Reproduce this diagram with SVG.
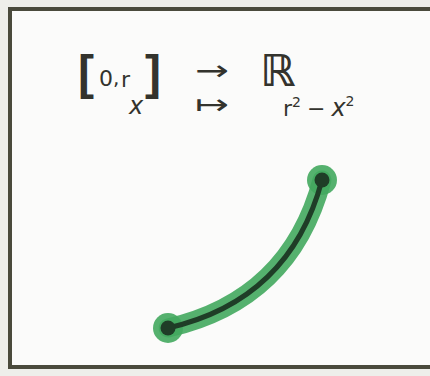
<svg xmlns="http://www.w3.org/2000/svg" width="430" height="376" viewBox="0 0 430 376">
<style>
.t{font-family:"DejaVu Sans","Liberation Sans",sans-serif;fill:#33332d}
.br{font-family:"Liberation Sans","DejaVu Sans",sans-serif;font-weight:bold;font-size:48px}
.ar{font-size:28px}
.halo{fill:none;stroke:#43a85e;stroke-opacity:0.9;stroke-width:19;stroke-linecap:round}
.core{fill:none;stroke:#1f3d27;stroke-width:5;stroke-linecap:round}
</style>
<rect x="0" y="0" width="430" height="376" fill="#eeeeea"/>
<rect x="10" y="9" width="440" height="358" fill="#fbfbfa" stroke="#4a4a3c" stroke-width="4"/>
<g id="formula">
<text class="t br" x="78" y="89">[</text>
<text class="t" x="99" y="86" font-size="22">0</text>
<text class="t" x="113" y="85" font-size="20">,</text>
<text class="t" x="121" y="87" font-size="22">r</text>
<text class="t br" x="145" y="89">]</text>
<text class="t ar" transform="translate(195,80) scale(1.45,1)">→</text>
<text class="t" x="260" y="86" font-size="44" font-weight="bold">ℝ</text>
<text class="t" x="129" y="114" font-size="24" font-style="italic">x</text>
<text class="t ar" transform="translate(195,114) scale(1.45,1)">↦</text>
<text class="t" x="283" y="116" font-size="22">r<tspan dy="-9" font-size="14">2</tspan><tspan dy="9" dx="6">−</tspan><tspan dx="6" font-style="italic" font-size="24">x</tspan><tspan dy="-10" font-size="14">2</tspan></text>
</g>
<g id="curve">
<path class="halo" d="M168,328 Q290,300 322,180"/>
<circle cx="168" cy="328" r="15" fill="#43a85e" fill-opacity="0.9"/>
<circle cx="322" cy="180" r="15" fill="#43a85e" fill-opacity="0.9"/>
<path class="core" d="M168,328 Q290,300 322,180"/>
<circle cx="168" cy="328" r="7.5" fill="#1f3d27"/>
<circle cx="322" cy="180" r="7.5" fill="#1f3d27"/>
</g>
</svg>
